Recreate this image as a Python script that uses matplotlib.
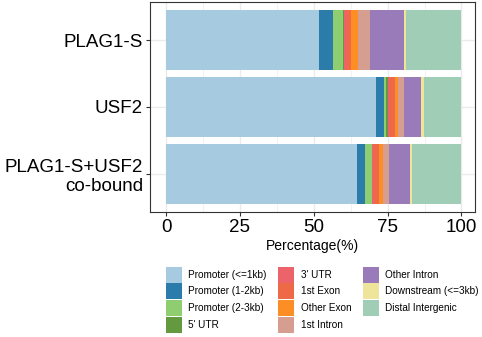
import matplotlib
matplotlib.use("Agg")
import matplotlib.pyplot as plt
from matplotlib.patches import Patch

plt.rcParams['font.family'] = ['Liberation Sans', 'DejaVu Sans']

samples = ["PLAG1-S", "USF2", "PLAG1-S+USF2\nco-bound"]
features = [
    "Promoter (<=1kb)", "Promoter (1-2kb)", "Promoter (2-3kb)", "5' UTR",
    "3' UTR", "1st Exon", "Other Exon", "1st Intron",
    "Other Intron", "Downstream (<=3kb)", "Distal Intergenic",
]
colors = ["#A6CBE0", "#2B7BAB", "#8FCE70", "#65993F",
          "#EC636A", "#EE6A46", "#FD8E26", "#D69E91",
          "#9A7BBA", "#EFE59A", "#9FCDB6"]

# percentages per feature, one row per sample (same order as samples)
plag1 = [51.8, 4.8, 3.4, 0.2, 1.1, 1.3, 2.3, 4.0, 11.6, 0.8, 18.7]
usf2 = [71.1, 2.8, 0.7, 0.4, 0.9, 1.6, 0.9, 2.3, 5.7, 0.8, 12.8]
cobound = [64.5, 3.0, 2.1, 0.2, 0.7, 1.5, 1.5, 2.0, 7.2, 0.7, 16.6]
values = [plag1, usf2, cobound]

fig = plt.figure(figsize=(4.82, 3.37), dpi=100)
ax = fig.add_axes([0.311, 0.371, 0.674, 0.623])

ypos = [3, 2, 1]
for y, row in zip(ypos, values):
    left = 0
    for v, c in zip(row, colors):
        ax.barh(y, v, left=left, height=0.9, color=c, linewidth=0, zorder=3)
        left += v

ax.set_xlim(-5.5, 104.5)
ax.set_ylim(0.43, 3.57)
ax.set_xticks([0, 25, 50, 75, 100])
ax.set_xticks([12.5, 37.5, 62.5, 87.5], minor=True)
ax.set_yticks(ypos)
ax.set_yticklabels(samples, ha="right", multialignment="right")
ax.tick_params(axis="both", labelsize=13.5, color="#333333", length=3, width=0.8,
               labelcolor="black", pad=2)
ax.tick_params(axis="x", which="minor", length=0)
ax.grid(True, which="major", color="#EBEBEB", linewidth=1.0, zorder=0)
ax.grid(True, which="minor", axis="x", color="#EBEBEB", linewidth=0.5, zorder=0)
for s in ax.spines.values():
    s.set_color("#333333")
    s.set_linewidth(0.8)
ax.set_xlabel("Percentage(%)", fontsize=10, labelpad=2)

handles = [Patch(facecolor=c, edgecolor="none", label=f) for f, c in zip(features, colors)]
fig.legend(handles=handles, loc="upper left", bbox_to_anchor=(0.344, 0.209),
           ncol=3, fontsize=7.2, frameon=False, handlelength=1.6, handleheight=2.08,
           labelspacing=0.07, columnspacing=1.15, handletextpad=0.65, borderaxespad=0,
           borderpad=0)

fig.savefig("out.png", dpi=100)
